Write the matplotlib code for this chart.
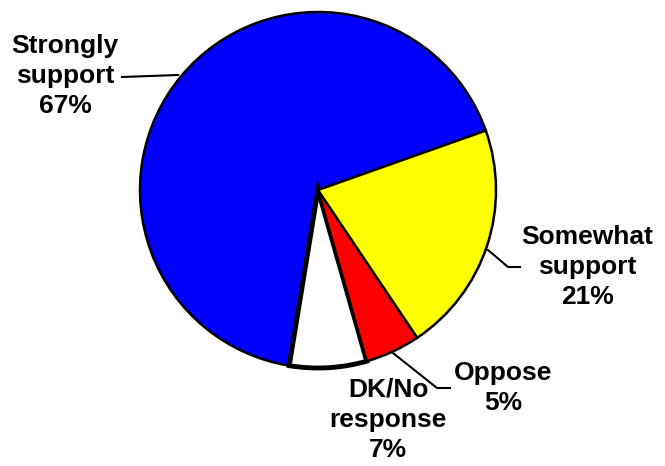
import matplotlib.pyplot as plt

labels = ['Strongly\nsupport\n67%', 'DK/No\nresponse\n7%', 'Oppose\n5%', 'Somewhat\nsupport\n21%']
values = [67, 7, 5, 21]
colors = ['#0000FF', '#FFFFFF', '#FF0000', '#FFFF00']

plt.rcParams['font.family'] = ['Liberation Sans', 'DejaVu Sans']

fig = plt.figure(figsize=(6.65, 4.66), dpi=100)
ax = fig.add_axes([0, 0, 1, 1])

# y is measured upward, so pixel y -> 466 - y
cx, cy, r = 318, 466 - 190, 178
wedges, _ = ax.pie(values, colors=colors, startangle=19.5, counterclock=True,
                   center=(cx, cy), radius=r, frame=True,
                   wedgeprops=dict(edgecolor='black', linewidth=1.8))
wedges[1].set_linewidth(3.5)
ax.set_xlim(0, 665)
ax.set_ylim(0, 466)
ax.set_aspect('equal')
ax.axis('off')

txt = dict(fontsize=19, fontweight='bold', ha='center', va='center', linespacing=1.32)

# leader lines
ax.plot([178, 122], [466 - 75, 466 - 77], color='black', lw=1.5)
ax.plot([488, 508, 520], [466 - 250, 466 - 267, 466 - 267], color='black', lw=1.5)
ax.plot([393, 437, 450], [466 - 353, 466 - 388, 466 - 388], color='black', lw=1.5)

ax.text(65, 466 - 76, labels[0], **txt)
ax.text(587, 466 - 267, labels[3], **txt)
ax.text(503, 466 - 388, labels[2], **txt)
ax.text(388, 466 - 420, labels[1], **txt)

fig.savefig('out.png', dpi=100)
